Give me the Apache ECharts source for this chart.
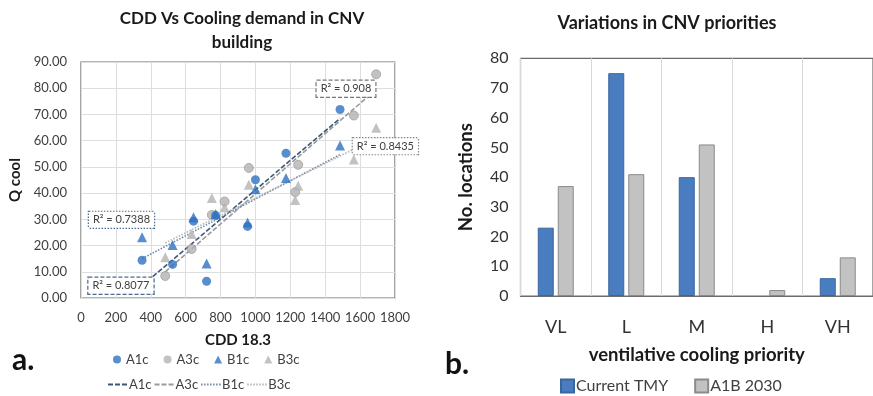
<!DOCTYPE html>
<html><head><meta charset="utf-8">
<script src="https://cdn.jsdelivr.net/npm/echarts@6/dist/echarts.min.js"></script>
<style>html,body{margin:0;padding:0;background:#fff}#c{width:873px;height:396px}</style>
</head><body><div id="c"></div>
<script>
// ---- Left panel data (scatter) ----
const xTicksCDD = [0, 200, 400, 600, 800, 1000, 1200, 1400, 1600, 1800];
const cdd1c = [350, 525, 645, 720, 772, 955, 1000, 1175, 1485];
const cdd3c = [483, 634, 750, 823, 962, 1228, 1245, 1564, 1692];
const qA1c = [14.4, 12.8, 29.3, 6.4, 31.5, 27.3, 45.1, 55.2, 71.9];
const qB1c = [23.2, 20.2, 30.8, 13.2, 32.0, 28.8, 41.5, 45.8, 58.2];
const qA3c = [8.4, 18.7, 31.7, 36.8, 49.6, 40.4, 50.8, 69.6, 85.3];
const qB3c = [15.5, 24.4, 38.1, 34.6, 43.2, 37.4, 42.8, 52.8, 64.9];
// trendline endpoints [cdd, q]
const trendA1c = [[350, 4.7], [1485, 68.5]];
const trendA3c = [[483, 10.0], [1692, 79.5]];
const trendB1c = [[350, 15.0], [1485, 54.7]];
const trendB3c = [[483, 21.0], [1692, 61.0]];
const r2Labels = ['R² = 0.908', 'R² = 0.8435', 'R² = 0.7388', 'R² = 0.8077'];
// ---- Right panel data (bars) ----
const priorities = ['VL', 'L', 'M', 'H', 'VH'];
const currentTMY = [23, 75, 40, 0, 6];
const a1b2030 = [37, 41, 51, 2, 13];

const FONT = 'Lato, "Open Sans", sans-serif';
const BLUE = '#2f72bf';
const GRAY = '#b3b3b3';
const zip = (xs, ys) => xs.map((x, i) => [x, ys[i]]);
const barData = (arr) => arr.map(v => v === 0 ? {value: v, itemStyle: {borderWidth: 0, opacity: 0}} : v);

const chart = echarts.init(document.getElementById('c'), null, {renderer: 'canvas'});

function r2Mark(coord, text, borderType, borderColor) {
  return {
    symbol: 'rect', symbolSize: 0, silent: true,
    data: [{coord: coord}],
    label: {
      show: true, position: 'inside', formatter: text,
      fontFamily: FONT, fontSize: 11, color: '#404040',
      backgroundColor: '#fff', borderColor: borderColor, borderWidth: 1.2,
      borderType: borderType, padding: [3, 4, 2, 4]
    }
  };
}

chart.setOption({
  animation: false,
  textStyle: {fontFamily: FONT},
  title: [
    {text: 'CDD Vs Cooling demand in CNV\nbuilding', left: 237, top: 2, textAlign: 'center',
     textStyle: {fontFamily: FONT, fontSize: 17, fontWeight: 'bold', color: '#1a1a1a', lineHeight: 24}},
    {text: 'Variations in CNV priorities', left: 662, top: 9, textAlign: 'center',
     textStyle: {fontFamily: FONT, fontSize: 18, fontWeight: 'bold', color: '#1a1a1a'}}
  ],
  graphic: [
    {type: 'text', left: 12, top: 345, style: {text: 'a.', font: 'bold 30px ' + FONT, fill: '#111'}},
    {type: 'text', left: 445, top: 349, style: {text: 'b.', font: 'bold 30px ' + FONT, fill: '#111'}}
  ],
  legend: [
    {data: ['A1c', 'A3c', 'B1c', 'B3c'], left: 108, top: 348, itemWidth: 8, itemHeight: 8, itemGap: 15,
     itemStyle: {borderWidth: 0},
     textStyle: {fontFamily: FONT, fontSize: 13, color: '#404040'}},
    {data: ['A1c trend', 'A3c trend', 'B1c trend', 'B3c trend'], left: 102, top: 373, itemWidth: 20, itemHeight: 8, itemGap: 2,
     itemStyle: {opacity: 0},
     formatter: n => n.replace(' trend', ''),
     textStyle: {fontFamily: FONT, fontSize: 13, color: '#404040', padding: [0, 0, 0, -4]}},
    {data: ['Current TMY', 'A1B 2030'], left: 555, top: 373, icon: 'rect', itemWidth: 13, itemHeight: 13, itemGap: 26,
     textStyle: {fontFamily: FONT, fontSize: 16, color: '#404040', padding: [0, 0, 0, -3]}}
  ],
  grid: [
    {left: 81, right: 478, top: 62, bottom: 98, show: true, borderColor: '#6b6b6b', borderWidth: 1.2, backgroundColor: 'transparent'},
    {left: 520.5, right: -4.5, top: 58.3, bottom: 100, show: true, borderColor: '#6b6b6b', borderWidth: 1.2, backgroundColor: 'transparent'}
  ],
  xAxis: [
    {type: 'value', gridIndex: 0, min: xTicksCDD[0], max: xTicksCDD[xTicksCDD.length - 1], interval: 200,
     name: 'CDD 18.3', nameLocation: 'middle', nameGap: 35,
     nameTextStyle: {fontFamily: FONT, fontSize: 15, fontWeight: 'bold', color: '#1a1a1a'},
     axisLine: {show: false}, axisTick: {show: false},
     axisLabel: {fontFamily: FONT, fontSize: 13, color: '#404040', margin: 13, formatter: v => String(v)},
     splitLine: {show: true, lineStyle: {color: '#dedede', width: 1}}},
    {type: 'category', gridIndex: 1, data: priorities,
     name: 'ventilative cooling priority', nameLocation: 'middle', nameGap: 50,
     nameTextStyle: {fontFamily: FONT, fontSize: 18.5, fontWeight: 'bold', color: '#1a1a1a'},
     axisLine: {show: true, lineStyle: {color: '#6b6b6b', width: 1.2}}, axisTick: {show: false},
     axisLabel: {fontFamily: FONT, fontSize: 18, color: '#333', margin: 22},
     splitLine: {show: true, lineStyle: {color: '#d9d9d9', width: 1}}}
  ],
  yAxis: [
    {type: 'value', gridIndex: 0, min: 0, max: 90, interval: 10,
     name: 'Q cool', nameLocation: 'middle', nameGap: 58,
     nameTextStyle: {fontFamily: FONT, fontSize: 15, fontWeight: 'bold', color: '#1a1a1a'},
     axisLine: {show: false}, axisTick: {show: false},
     axisLabel: {fontFamily: FONT, fontSize: 13, color: '#404040', margin: 14, formatter: v => v.toFixed(2)},
     splitLine: {show: true, lineStyle: {color: '#dedede', width: 1}}},
    {type: 'value', gridIndex: 1, min: 0, max: 80, interval: 10,
     name: 'No. locations', nameLocation: 'middle', nameGap: 45,
     nameTextStyle: {fontFamily: FONT, fontSize: 18.5, fontWeight: 'bold', color: '#1a1a1a'},
     axisLine: {show: false}, axisTick: {show: false},
     axisLabel: {fontFamily: FONT, fontSize: 16, color: '#333', margin: 12},
     splitLine: {show: false}}
  ],
  series: [
    {name: 'A1c trend', type: 'line', xAxisIndex: 0, yAxisIndex: 0, data: trendA1c, symbol: 'none', z: 3,
     lineStyle: {color: '#3e5778', width: 1.6, type: [5, 2]}, itemStyle: {color: '#3e5778'},
     markPoint: r2Mark([229, 4.7], r2Labels[3], [4, 2], '#4a6a90')},
    {name: 'A3c trend', type: 'line', xAxisIndex: 0, yAxisIndex: 0, data: trendA3c, symbol: 'none', z: 3,
     lineStyle: {color: '#9a9a9a', width: 1.6, type: [5, 2]}, itemStyle: {color: '#9a9a9a'},
     markPoint: r2Mark([1519, 79.8], r2Labels[0], [4, 2], '#777')},
    {name: 'B1c trend', type: 'line', xAxisIndex: 0, yAxisIndex: 0, data: trendB1c, symbol: 'none', z: 3,
     lineStyle: {color: '#7088a8', width: 1.6, type: [1.5, 1.5]}, itemStyle: {color: '#7088a8'},
     markPoint: r2Mark([232, 29.8], r2Labels[2], [1.5, 1.5], '#4a6a90')},
    {name: 'B3c trend', type: 'line', xAxisIndex: 0, yAxisIndex: 0, data: trendB3c, symbol: 'none', z: 3,
     lineStyle: {color: '#b5b5b5', width: 1.6, type: [1.5, 1.5]}, itemStyle: {color: '#b5b5b5'},
     markPoint: r2Mark([1745, 57.9], r2Labels[1], [1.5, 1.5], '#888')},
    {name: 'A1c', type: 'scatter', xAxisIndex: 0, yAxisIndex: 0, data: zip(cdd1c, qA1c), symbol: 'circle', symbolSize: 9, z: 5,
     itemStyle: {color: BLUE}},
    {name: 'A3c', type: 'scatter', xAxisIndex: 0, yAxisIndex: 0, data: zip(cdd3c, qA3c), symbol: 'circle', symbolSize: 9, z: 4,
     itemStyle: {color: GRAY, borderColor: '#a0a0a0', borderWidth: 1}},
    {name: 'B1c', type: 'scatter', xAxisIndex: 0, yAxisIndex: 0, data: zip(cdd1c, qB1c), symbol: 'triangle', symbolSize: 10, z: 5,
     itemStyle: {color: BLUE}},
    {name: 'B3c', type: 'scatter', xAxisIndex: 0, yAxisIndex: 0, data: zip(cdd3c, qB3c), symbol: 'triangle', symbolSize: 10, z: 4,
     itemStyle: {color: GRAY}},
    {name: 'Current TMY', type: 'bar', xAxisIndex: 1, yAxisIndex: 1, data: barData(currentTMY), barWidth: 16, barGap: '25%',
     itemStyle: {color: '#4a7dc0', borderColor: '#3a66a0', borderWidth: 1}},
    {name: 'A1B 2030', type: 'bar', xAxisIndex: 1, yAxisIndex: 1, data: barData(a1b2030), barWidth: 16,
     itemStyle: {color: '#c2c2c2', borderColor: '#8a8a8a', borderWidth: 1}}
  ]
});
</script></body></html>
